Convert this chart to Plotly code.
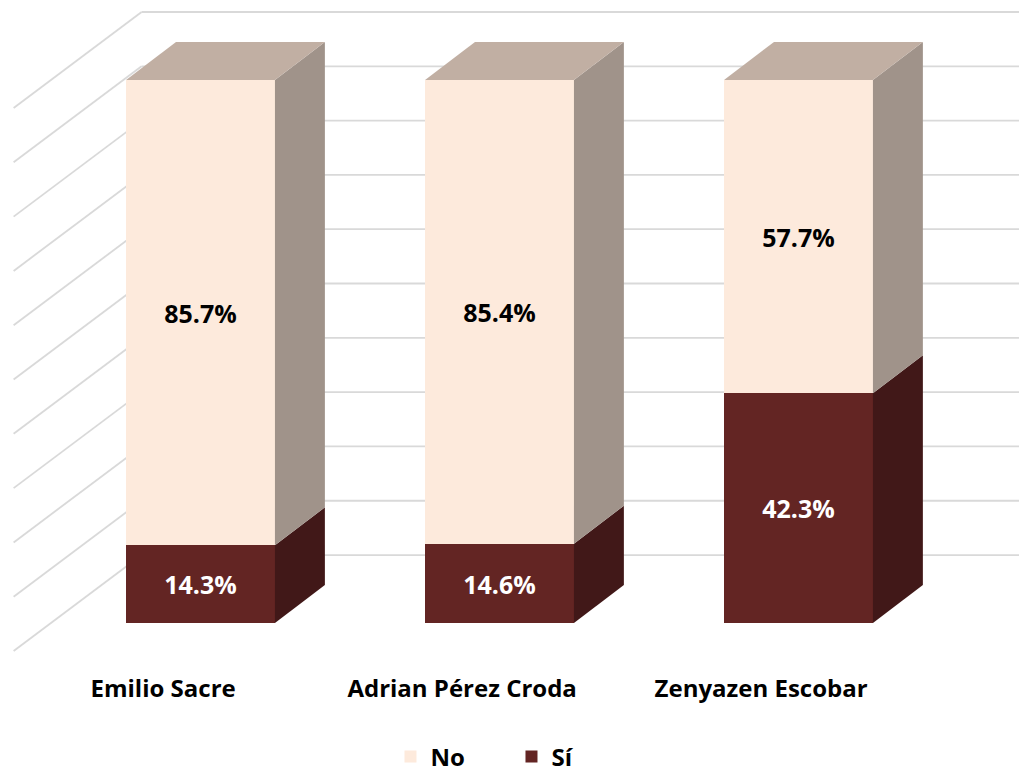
import plotly.graph_objects as go

# ---------------- data ----------------
categories = ["Emilio Sacre", "Adrian Pérez Croda", "Zenyazen Escobar"]
si_values = [14.3, 14.6, 42.3]
no_values = [85.7, 85.4, 57.7]
grid_ticks = list(range(0, 101, 10))

# ---------------- style / geometry ----------------
BAR_W = 0.498
DEPTH_DX, DEPTH_DY = 0.167, 7.0        # bar depth (oblique projection)
WALL_DX, WALL_DY = 0.303, 12.52        # back wall offset from bar front plane
SIDE_DX, SIDE_DY = 0.428, 17.68        # full depth of side wall
LABEL_DX = 0.125                       # category labels sit at the floor's front edge
X_RANGE = [-0.6706, 2.7375]
Y_RANGE = [-9.02, 114.73]

NO_FRONT, NO_TOP, NO_SIDE = "#FDEADC", "#C1AFA3", "#A0938A"
SI_FRONT, SI_SIDE = "#632523", "#411818"
GRID = "#D9D9D9"
FONT = "Open Sans"

xs = list(range(len(categories)))
fig = go.Figure()

# front faces (real stacked bars)
fig.add_trace(go.Bar(
    x=xs, y=si_values, name="Sí", width=BAR_W, marker_color=SI_FRONT,
    marker_line_width=0, legendrank=2,
    text=[f"{v:.1f}%" for v in si_values], textposition="inside",
    insidetextanchor="middle", constraintext="none",
    textfont=dict(color="white", size=25, family=FONT, weight="bold"),
    hoverinfo="skip"))
fig.add_trace(go.Bar(
    x=xs, y=no_values, name="No", width=BAR_W, marker_color=NO_FRONT,
    marker_line_width=0, legendrank=1,
    text=[f"{v:.1f}%" for v in no_values], textposition="inside",
    insidetextanchor="middle", constraintext="none",
    textfont=dict(color="black", size=25, family=FONT, weight="bold"),
    hoverinfo="skip"))

# side and top faces derived from the values
def poly(px, py, color):
    fig.add_trace(go.Scatter(x=px, y=py, mode="lines", fill="toself",
                             fillcolor=color, line=dict(width=0, color=color),
                             showlegend=False, hoverinfo="skip"))

for i, x in enumerate(xs):
    r = x + BAR_W / 2
    l = x - BAR_W / 2
    segs = [(0, si_values[i], SI_SIDE), (si_values[i], si_values[i] + no_values[i], NO_SIDE)]
    for b, t, c in segs:
        poly([r, r + DEPTH_DX, r + DEPTH_DX, r, r],
             [b, b + DEPTH_DY, t + DEPTH_DY, t, b], c)
    top = si_values[i] + no_values[i]
    poly([l, r, r + DEPTH_DX, l + DEPTH_DX, l],
         [top, top, top + DEPTH_DY, top + DEPTH_DY, top], NO_TOP)

# back wall and side wall gridlines
wall_left = -0.5 + WALL_DX
wall_right = len(categories) - 0.5 + WALL_DX
shapes = []
for v in grid_ticks:
    yb = v + WALL_DY
    shapes.append(dict(type="line", xref="x", yref="y", x0=wall_left, x1=wall_right,
                       y0=yb, y1=yb, line=dict(color=GRID, width=1.8), layer="below"))
    shapes.append(dict(type="line", xref="x", yref="y", x0=wall_left, x1=wall_left - SIDE_DX,
                       y0=yb, y1=yb - SIDE_DY, line=dict(color=GRID, width=1.8), layer="below"))

fig.update_layout(
    width=1019, height=775,
    margin=dict(l=0, r=0, t=0, b=103, autoexpand=False),
    paper_bgcolor="white", plot_bgcolor="white",
    barmode="stack", bargap=0,
    shapes=shapes,
    showlegend=True,
    legend=dict(orientation="h", x=0.3832, xanchor="left", y=-0.1265, yanchor="middle",
                traceorder="normal",
                font=dict(size=24, family=FONT, color="black", weight="bold"),
                entrywidth=76, entrywidthmode="pixels"),
    xaxis=dict(range=X_RANGE, tickvals=[x - LABEL_DX for x in xs], ticktext=categories,
               showgrid=False, zeroline=False, showline=False, ticks="", fixedrange=True,
               tickfont=dict(size=24, family=FONT, color="black", weight="bold")),
    yaxis=dict(range=Y_RANGE, showgrid=False, zeroline=False, showline=False,
               showticklabels=False, ticks="", fixedrange=True),
)

fig.write_html("out.html", config={"displayModeBar": False},
               post_script="document.body.style.margin='0';")
